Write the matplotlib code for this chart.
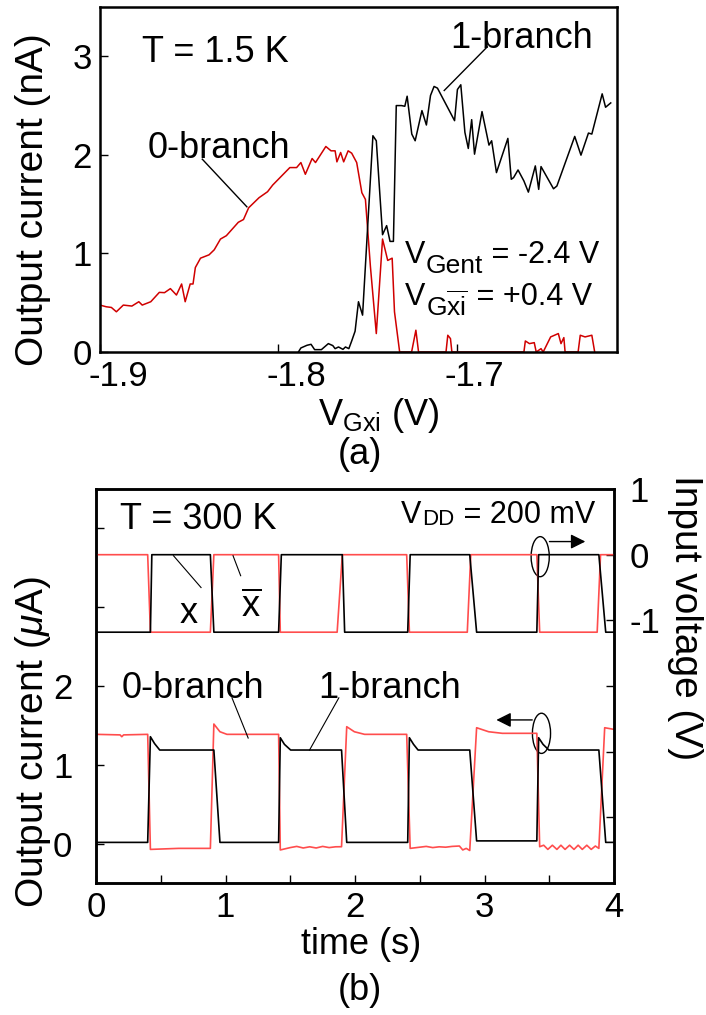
import numpy as np
import matplotlib
matplotlib.use('Agg')
import matplotlib.pyplot as plt
from matplotlib.patches import Ellipse
from matplotlib.transforms import ScaledTranslation

plt.rcParams['font.family'] = ['Liberation Sans', 'DejaVu Sans']
plt.rcParams['mathtext.fontset'] = 'custom'
plt.rcParams['mathtext.rm'] = 'Liberation Sans'
plt.rcParams['mathtext.it'] = 'Liberation Sans:italic'
plt.rcParams['axes.unicode_minus'] = False

# ---- (a) T = 1.5 K sweep ----
vg_0 = [-1.9000, -1.8965, -1.8936, -1.8908, -1.8869, -1.8821, -1.8782, -1.8763, -1.8715, -1.8667,
        -1.8638, -1.8605, -1.8571, -1.8542, -1.8522, -1.8494, -1.8478, -1.8465, -1.8436, -1.8388,
        -1.8359, -1.8324, -1.8291, -1.8224, -1.8195, -1.8166, -1.8108, -1.8060, -1.8031, -1.7935,
        -1.7897, -1.7873, -1.7848, -1.7810, -1.7791, -1.7733, -1.7704, -1.7681, -1.7671, -1.7650,
        -1.7633, -1.7608, -1.7588, -1.7560, -1.7531, -1.7511, -1.7483, -1.7450, -1.7415, -1.7386,
        -1.7361, -1.7348, -1.7319, -1.7252, -1.7228, -1.7213, -1.7059, -1.7049, -1.7034, -1.7026,
        -1.6622, -1.6614, -1.6591, -1.6564, -1.6553, -1.6526, -1.6514, -1.6472, -1.6429, -1.6414,
        -1.6398, -1.6391, -1.6318, -1.6306, -1.6279, -1.6241, -1.6225]
i_0 = [0.476, 0.459, 0.452, 0.408, 0.476, 0.466, 0.510, 0.476, 0.510, 0.605,
       0.602, 0.643, 0.578, 0.690, 0.510, 0.690, 0.690, 0.857, 0.952, 0.986,
       1.037, 1.146, 1.180, 1.316, 1.344, 1.463, 1.565, 1.626, 1.694, 1.871,
       1.871, 1.922, 1.803, 1.963, 1.922, 2.085, 2.041, 2.041, 1.929, 2.024,
       1.929, 2.041, 2.017, 1.922, 1.616, 1.548, 0.867, 0.187, 1.146, 0.929,
       0.952, 0.408, 0.0, 0.0, 0.221, 0.0, 0.0, 0.170, 0.136, 0.0,
       0.0, 0.112, 0.085, 0.095, 0.0, 0.034, 0.0, 0.153, 0.187, 0.085,
       0.146, 0.0, 0.0, 0.170, 0.153, 0.170, 0.0]

vg_1 = [-1.7887, -1.7873, -1.7839, -1.7816, -1.7796, -1.7758, -1.7719, -1.7694, -1.7681, -1.7662,
        -1.7637, -1.7623, -1.7604, -1.7588, -1.7569, -1.7550, -1.7527, -1.7469, -1.7450, -1.7415,
        -1.7392, -1.7373, -1.7354, -1.7338, -1.7309, -1.7290, -1.7277, -1.7251, -1.7232, -1.7194,
        -1.7169, -1.7146, -1.7126, -1.7107, -1.7011, -1.6995, -1.6976, -1.6953, -1.6934, -1.6915,
        -1.6899, -1.6857, -1.6818, -1.6803, -1.6776, -1.6712, -1.6693, -1.6680, -1.6655, -1.6622,
        -1.6597, -1.6558, -1.6539, -1.6526, -1.6456, -1.6437, -1.6337, -1.6302, -1.6260, -1.6241,
        -1.6183, -1.6164, -1.6135]
i_1 = [0.0, 0.041, 0.068, 0.078, 0.024, 0.024, 0.085, 0.065, 0.034, 0.051,
       0.027, 0.051, 0.034, 0.112, 0.211, 0.510, 0.374, 2.194, 2.143, 1.190,
       1.282, 1.122, 1.122, 2.500, 2.500, 2.493, 2.595, 2.211, 2.143, 2.449,
       2.303, 2.602, 2.694, 2.677, 2.347, 2.663, 2.711, 2.228, 2.065, 2.357,
       2.007, 2.439, 2.099, 2.143, 1.820, 2.167, 1.752, 1.769, 1.847, 1.735,
       1.622, 1.888, 1.650, 1.881, 1.656, 1.684, 2.187, 1.997, 2.221, 2.211,
       2.619, 2.483, 2.527]

xticks_a = [-1.9, -1.8, -1.7]
xlabels_a = ['-1.9', '-1.8', '-1.7']
yticks_a = [0, 1, 2, 3]

# ---- (b) T = 300 K time traces ----
t_x = [0, 0.420, 0.431, 0.883, 0.910, 1.410, 1.431, 1.902, 1.920,
       2.407, 2.426, 2.886, 2.939, 3.404, 3.418, 3.883, 3.936, 4.0]
v_x = [-1.18, -1.18, 0, 0, -1.18, -1.18, 0, 0, -1.18,
       -1.18, 0, 0, -1.18, -1.18, 0, 0, -1.18, -1.18]
t_xb = [0, 0.399, 0.420, 0.883, 0.910, 1.410, 1.423, 1.862, 1.902,
        2.399, 2.420, 2.867, 2.894, 3.404, 3.426, 3.870, 3.896, 4.0]
v_xb = [0, 0, -1.18, -1.18, 0, 0, -1.18, -1.18, 0,
        0, -1.18, -1.18, 0, 0, -1.18, -1.18, 0, 0]

t_i1 = [0, 0.399, 0.420, 0.452, 0.492, 0.910, 0.957, 1.410, 1.423, 1.455, 1.503, 1.896, 1.936,
        2.407, 2.420, 2.452, 2.487, 2.886, 2.939, 3.404, 3.418, 3.452, 3.497, 3.883, 3.936, 4.0]
i_1b = [0.016, 0.016, 1.357, 1.27, 1.188, 1.188, 0.016, 0.016, 1.344, 1.26, 1.188, 1.188, 0.016,
        0.016, 1.344, 1.26, 1.188, 1.188, 0.035, 0.035, 1.344, 1.26, 1.188, 1.188, 0.016, 0.016]

t_i0 = [0.000, 0.186, 0.199, 0.213, 0.399,
        0.420, 0.638, 0.883,
        0.910, 0.957, 1.011, 1.410,
        1.423, 1.500, 1.550, 1.600, 1.650, 1.700, 1.750, 1.800, 1.850, 1.896,
        1.936, 1.995, 2.074, 2.399,
        2.426, 2.500, 2.550, 2.600, 2.650, 2.700, 2.750, 2.806, 2.832, 2.859, 2.886,
        2.939, 3.032, 3.138, 3.404,
        3.426, 3.457, 3.489, 3.524, 3.559, 3.590, 3.622, 3.657, 3.691, 3.723, 3.755, 3.790,
        3.824, 3.856, 3.883,
        3.928, 4.000]
i_0b = [1.387, 1.380, 1.357, 1.380, 1.387,
        -0.073, -0.060, -0.060,
        1.518, 1.420, 1.387, 1.387,
        -0.080, -0.050, -0.035, -0.055, -0.040, -0.055, -0.035, -0.050, -0.040, -0.039,
        1.484, 1.420, 1.387, 1.387,
        -0.060, -0.045, -0.035, -0.050, -0.040, -0.045, -0.035, -0.030, -0.080, -0.060, -0.087,
        1.471, 1.420, 1.400, 1.400,
        -0.039, -0.020, -0.073, -0.020, -0.073, -0.020, -0.073, -0.020, -0.073, -0.020, -0.073, -0.020,
        -0.073, -0.030, -0.060,
        1.471, 1.450]

xticks_b = [0, 1, 2, 3, 4]
xminor_b = [0.5, 1.5, 2.5, 3.5]
yticks_b = [0, 1, 2, 3, 4]
ylabels_b = ['0', '1', '2', '', '']
vticks_b = [1, 0, -1, -2, -3, -4]
vlabels_b = ['1', '0', '-1', '', '', '']

RED_A = '#d00000'
RED_B = '#ff4d4d'
FS = 26
TFS = 25
LFS = 28
SPW = 1.8


def frame(ax):
    for s in ax.spines.values():
        s.set_linewidth(SPW)


def sub_text(ax, x, y, main, sub, rest, fs, sfs, drop):
    # main letter, lowered subscript, then the rest back on the baseline
    t1 = ax.text(x, y, main, transform=ax.transAxes, fontsize=fs)
    t2 = ax.annotate(sub, xy=(1, 0), xycoords=t1, xytext=(0.5, -drop),
                     textcoords='offset points', va='bottom', fontsize=sfs)
    ax.annotate(rest, xy=(1, 0), xycoords=t2, xytext=(0, drop),
                textcoords='offset points', va='bottom', fontsize=fs)


fig = plt.figure(figsize=(7.06, 10.15), dpi=100)

# ── panel (a) ───────────────────────────────────────────────────────────────
axa = fig.add_axes([0.1416, 0.6532, 0.7323, 0.3399])
axa.plot(vg_0, i_0, color=RED_A, lw=1.1)
axa.plot(vg_1, i_1, color='black', lw=1.1)
axa.set_xlim(-1.9, -1.61)
axa.set_ylim(0, 3.5)
axa.set_xticks(xticks_a)
axa.set_xticklabels(xlabels_a)
axa.set_yticks(yticks_a)
axa.tick_params(direction='in', length=6, width=1, labelsize=TFS, pad=6)
shift = ScaledTranslation(0.18, 0, fig.dpi_scale_trans)
for lab in axa.get_xticklabels():
    lab.set_transform(lab.get_transform() + shift)
frame(axa)

axa.text(0.081, 0.841, 'T = 1.5 K', transform=axa.transAxes, fontsize=FS)
axa.text(0.677, 0.881, '1-branch', transform=axa.transAxes, fontsize=FS)
axa.text(0.093, 0.562, '0-branch', transform=axa.transAxes, fontsize=FS)
axa.plot([-1.8426, -1.8176], [1.956, 1.473], color='black', lw=1.0)
axa.plot([-1.6828, -1.7069], [3.095, 2.653], color='black', lw=1.0)
sub_text(axa, 0.59, 0.258, 'V', 'Gent', ' = -2.4 V', 22, 19, 6)
sub_text(axa, 0.59, 0.136, 'V', r'G$\overline{\mathrm{xi}}$', ' = +0.4 V', 22, 19, 6)

fig.text(33 / 706, 1 - 200 / 1015, 'Output current (nA)', rotation=90,
         ha='center', va='center', fontsize=LFS)
fig.text(379 / 706, 1 - 425 / 1015, r'V$_{\mathrm{Gxi}}$ (V)', ha='center',
         va='baseline', fontsize=FS)
fig.text(360 / 706, 1 - 455 / 1015, '(a)', ha='center', va='center', fontsize=FS)

# ── panel (b) ───────────────────────────────────────────────────────────────
axb = fig.add_axes([0.1360, 0.1300, 0.7337, 0.3882])
axv = axb.twinx()

axb.plot(t_i0, i_0b, color=RED_B, lw=1.2)
axb.plot(t_i1, i_1b, color='black', lw=1.2)
axv.plot(t_xb, v_xb, color=RED_B, lw=1.2)
axv.plot(t_x, v_x, color='black', lw=1.2)

axb.set_xlim(0, 4)
axb.set_ylim(-0.5, 4.5)
axv.set_ylim(-5, 1)
axb.set_xticks(xticks_b)
axb.set_xticks(xminor_b, minor=True)
axb.set_yticks(yticks_b)
axb.set_yticklabels(ylabels_b)
axv.set_yticks(vticks_b)
axv.set_yticklabels(vlabels_b)
axb.tick_params(axis='x', which='both', direction='in', length=6, width=1,
                labelsize=TFS, pad=6, top=False)
axb.tick_params(axis='y', direction='in', length=6, width=1, labelsize=TFS,
                pad=17, right=False)
axv.tick_params(axis='y', direction='in', length=6, width=1, labelsize=TFS, pad=11)
frame(axb)
frame(axv)

axb.text(0.047, 0.898, 'T = 300 K', transform=axb.transAxes, fontsize=FS)
tv = axb.text(0.588, 0.914, 'V', transform=axb.transAxes, fontsize=22)
tdd = axb.annotate('DD', xy=(1, 0), xycoords=tv, xytext=(1, 0),
                   textcoords='offset points', va='bottom', fontsize=16)
axb.annotate(' = 200 mV', xy=(1, 0), xycoords=tdd, va='bottom', fontsize=22)

axb.text(0.178, 0.66, 'x', transform=axb.transAxes, fontsize=FS, ha='center')
axb.text(0.30, 0.675, r'$\overline{\mathrm{x}}$', transform=axb.transAxes,
         fontsize=FS, ha='center')
axv.plot([0.598, 0.811], [-0.015, -0.5], color='black', lw=0.8)
axv.plot([1.058, 1.117], [-0.015, -0.32], color='black', lw=0.8)

axb.text(0.050, 0.47, '0-branch', transform=axb.transAxes, fontsize=FS)
axb.text(0.4286, 0.47, '1-branch', transform=axb.transAxes, fontsize=FS)
axb.plot([1.05, 1.175], [1.85, 1.34], color='black', lw=0.8)
axb.plot([1.875, 1.649], [1.85, 1.188], color='black', lw=0.8)

# axis indicators (loop + arrow)
axv.add_patch(Ellipse((3.43, -0.03), 0.14, 0.61, fill=False, lw=1.0, color='black'))
axv.annotate('', xy=(3.80, 0.2), xytext=(3.48, 0.2),
             arrowprops=dict(arrowstyle='-|>', lw=1.0, color='black', mutation_scale=22))
axb.add_patch(Ellipse((3.44, 1.40), 0.14, 0.51, fill=False, lw=1.0, color='black'))
axb.annotate('', xy=(3.07, 1.57), xytext=(3.39, 1.57),
             arrowprops=dict(arrowstyle='-|>', lw=1.0, color='black', mutation_scale=22))

fig.text(33 / 706, 1 - 742 / 1015, r'Output current ($\mu$A)', rotation=90,
         ha='center', va='center', fontsize=LFS)
fig.text(685 / 706, 1 - 618 / 1015, 'Input voltage (V)', rotation=270,
         ha='center', va='center', fontsize=28)
fig.text(361 / 706, 1 - 945 / 1015, 'time (s)', ha='center', va='center', fontsize=FS)
fig.text(360 / 706, 1 - 991 / 1015, '(b)', ha='center', va='center', fontsize=FS)

fig.savefig('out.png', dpi=100)
